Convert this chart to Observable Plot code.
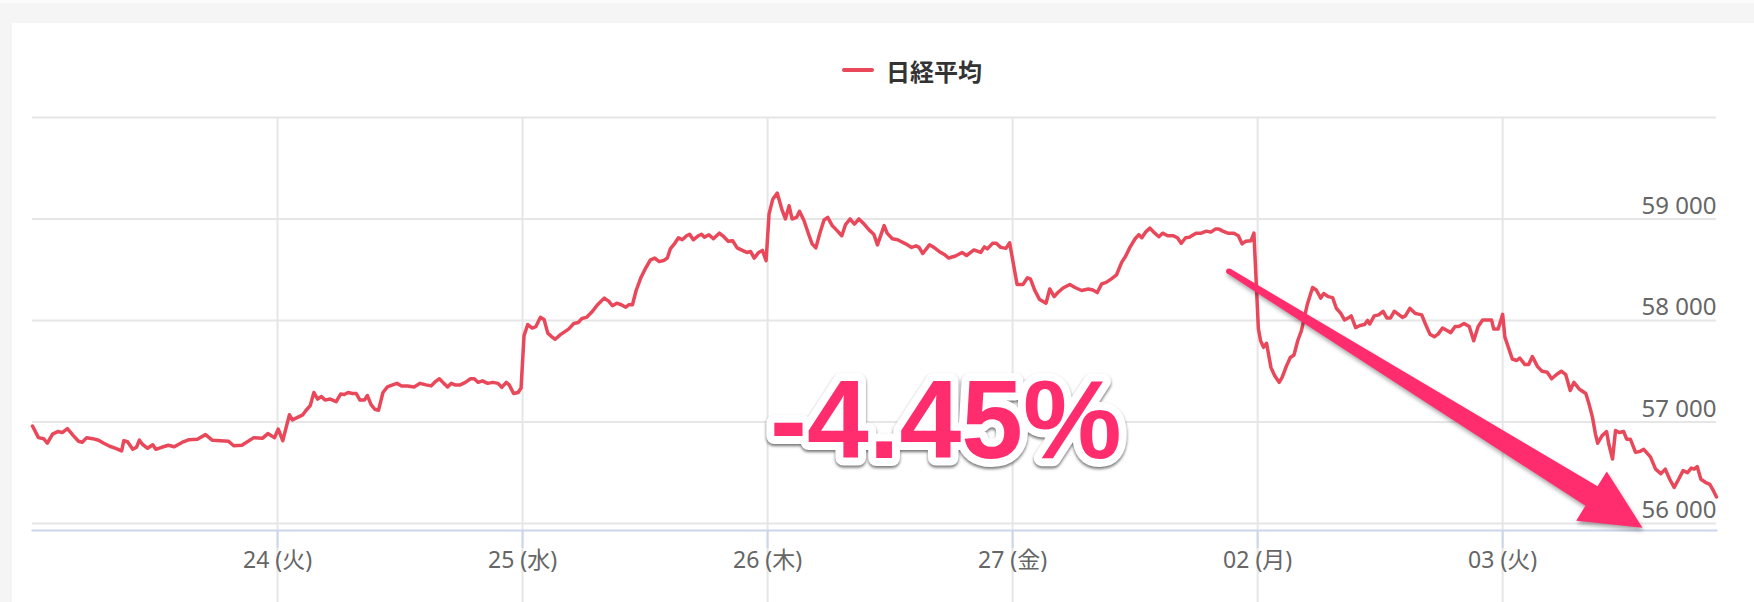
<!DOCTYPE html>
<html><head><meta charset="utf-8">
<script src="https://cdn.jsdelivr.net/npm/d3@7"></script>
<script src="https://cdn.jsdelivr.net/npm/@observablehq/plot@0.6"></script>
<style>
html,body{margin:0;padding:0;}
body{width:1754px;height:602px;background:#f5f5f5;position:relative;overflow:hidden;font-family:"Noto Sans","Noto Sans CJK JP",sans-serif;}
#topstrip{position:absolute;left:0;top:0;width:1754px;height:3px;background:#fbfbfb;}
#panel{position:absolute;left:12px;top:23px;width:1742px;height:579px;background:#fff;}
#legend{position:absolute;left:842px;top:52px;height:36px;display:flex;align-items:center;}
#legend .swatch{width:32px;height:4px;background:#e8485a;border-radius:2px;margin-right:12px;}
#legend .label{font-weight:bold;font-size:24px;font-family:"Noto Sans CJK JP",sans-serif;color:#333;}
#chart{position:absolute;left:0;top:100px;}
</style></head>
<body>
<div id="topstrip"></div>
<div id="panel"></div>
<div id="legend"><div class="swatch"></div><div class="label" id="legendLabel"></div></div>
<div id="chart"></div>
<script>
// ---- data ----
const seriesName = "日経平均";
const dayLabels = ["20 (金)", "24 (火)", "25 (水)", "26 (木)", "27 (金)", "02 (月)", "03 (火)"];
const labeledDays = [1, 2, 3, 4, 5, 6];
const sessionMinutes = 330;
const yTicks = [56000, 57000, 58000, 59000, 60000];
const yLabelTicks = [56000, 57000, 58000, 59000];
const yDomain = [55930, 60000];

// [minutes into session, price]
const feb20 = [[0,56960],[8,56845],[15,56835],[20,56790],[27,56880],[34,56905],[40,56895],[47,56935],[55,56865],[62,56810],[67,56800],[73,56845],[81,56835],[89,56820],[96,56790],[104,56760],[112,56740],[120,56715],[123,56815],[128,56805],[135,56730],[140,56750],[144,56820],[148,56780],[155,56740],[162,56775],[166,56730],[174,56750],[183,56770],[191,56755],[202,56800],[211,56825],[222,56830],[233,56875],[242,56820],[253,56815],[264,56810],[271,56765],[282,56770],[298,56845],[310,56840],[317,56885],[326,56845]];
const feb24 = [[1,56930],[7,56815],[16,57070],[20,57020],[27,57045],[34,57070],[38,57110],[44,57160],[49,57290],[54,57225],[59,57250],[64,57215],[71,57225],[79,57200],[85,57275],[90,57270],[95,57290],[101,57280],[106,57280],[111,57215],[117,57215],[121,57260],[126,57170],[131,57125],[136,57115],[142,57290],[148,57345],[155,57365],[161,57380],[167,57355],[175,57355],[184,57345],[192,57380],[200,57365],[207,57355],[213,57400],[218,57425],[224,57380],[229,57345],[234,57380],[239,57365],[246,57365],[253,57390],[260,57425],[265,57425],[270,57390],[276,57405],[283,57380],[290,57390],[297,57380],[302,57340],[308,57390],[312,57365],[318,57280],[324,57290],[328,57335]];
const feb25 = [[2,57850],[7,57960],[13,57925],[18,57940],[24,58030],[29,58010],[34,57875],[40,57835],[44,57815],[51,57860],[57,57890],[62,57915],[69,57970],[75,57980],[80,58020],[86,58030],[93,58080],[101,58155],[110,58220],[116,58190],[121,58145],[127,58170],[133,58155],[139,58130],[143,58155],[148,58155],[153,58295],[159,58415],[165,58505],[172,58595],[178,58615],[184,58580],[190,58590],[195,58615],[199,58705],[205,58760],[210,58815],[215,58795],[221,58835],[225,58850],[230,58795],[237,58835],[241,58850],[245,58820],[251,58845],[257,58805],[265,58860],[271,58825],[277,58780],[283,58785],[289,58715],[296,58690],[302,58670],[307,58680],[312,58615],[318,58670],[323,58690],[328,58590]];
const feb26 = [[2,59050],[7,59195],[13,59255],[19,59100],[24,59000],[29,59130],[33,59000],[39,59015],[43,59075],[49,58985],[56,58835],[60,58755],[65,58715],[70,58850],[76,58990],[81,59015],[87,58935],[93,58890],[100,58835],[105,58945],[111,59000],[117,58950],[123,59000],[130,58950],[137,58890],[143,58850],[148,58745],[157,58935],[161,58860],[168,58805],[175,58795],[186,58755],[194,58720],[200,58735],[204,58720],[209,58660],[218,58745],[224,58720],[231,58680],[238,58650],[244,58615],[253,58635],[262,58670],[268,58640],[278,58695],[287,58670],[292,58725],[296,58705],[303,58760],[308,58760],[314,58720],[321,58710],[326,58765]];
const feb27 = [[6,58355],[14,58355],[20,58420],[24,58410],[30,58295],[36,58210],[45,58170],[50,58310],[56,58235],[61,58275],[68,58320],[77,58355],[84,58325],[93,58295],[102,58310],[108,58300],[114,58275],[120,58360],[126,58375],[133,58410],[140,58450],[147,58575],[152,58630],[158,58720],[165,58805],[170,58845],[174,58815],[179,58870],[185,58910],[190,58870],[197,58825],[202,58860],[209,58835],[216,58835],[222,58815],[227,58760],[233,58815],[238,58820],[247,58860],[254,58860],[261,58880],[267,58870],[273,58900],[278,58900],[283,58880],[290,58860],[298,58860],[304,58835],[309,58755],[314,58780],[321,58785],[325,58860]];
const mar02 = [[1,57920],[4,57800],[8,57735],[12,57775],[18,57535],[23,57455],[29,57390],[33,57440],[39,57555],[44,57635],[49,57660],[54,57800],[59,57900],[63,58030],[67,58160],[74,58325],[79,58300],[85,58220],[89,58265],[95,58235],[101,58225],[106,58120],[112,58070],[117,58005],[123,58030],[126,58045],[132,57930],[138,57950],[144,57960],[148,58000],[151,57965],[157,58045],[163,58055],[169,58090],[174,58025],[179,58025],[184,58090],[188,58070],[195,58030],[199,58045],[205,58120],[212,58070],[221,58055],[226,57965],[232,57865],[238,57840],[243,57865],[249,57925],[255,57900],[260,57880],[266,57940],[271,57940],[278,57970],[285,57940],[291,57800],[297,57940],[303,58005],[310,58005],[315,58005],[318,57915],[324,57915]];
const mar03 = [[0,58060],[3,57835],[7,57750],[13,57620],[19,57605],[23,57630],[30,57565],[35,57565],[40,57645],[47,57545],[53,57500],[60,57490],[66,57425],[73,57470],[79,57500],[85,57465],[91,57310],[96,57390],[103,57325],[112,57280],[116,57185],[121,57045],[125,56880],[128,56790],[134,56865],[140,56905],[143,56780],[148,56635],[152,56915],[157,56895],[163,56905],[167,56830],[172,56830],[179,56700],[185,56710],[190,56730],[199,56655],[206,56535],[213,56490],[219,56535],[225,56435],[231,56355],[237,56435],[243,56520],[249,56500],[254,56545],[258,56535],[262,56560],[267,56435],[273,56405],[279,56385],[284,56320],[288,56260]];
const dayData = [feb20, feb24, feb25, feb26, feb27, mar02, mar03];

// annotation: [day index, minute, price]
const annotationText = "-4.45%";
const annotationAt = [3, 240, 56640];
const arrowStart = [4, 292, 58480];
const arrowEnd = [6, 189, 55953];

// ---- build ----
const toPos = (d, m) => d + m / sessionMinutes;
const series = dayData.flatMap((arr, k) => arr.map(([m, p]) => ({pos: toPos(k, m), price: p})));
const xMax = d3.max(series, d => d.pos);
const fmt = v => d3.format(",")(v).replace(/,/g, " ");
const lineColor = "#e8485a";
const pink = "#ff2d6e";

document.getElementById("legendLabel").textContent = seriesName;

const chart = Plot.plot({
  width: 1754, height: 502,
  marginLeft: 32, marginRight: 38, marginTop: 17, marginBottom: 72,
  style: {background: "transparent", overflow: "visible", fontFamily: '"Noto Sans","Noto Sans CJK JP",sans-serif'},
  x: {domain: [0, xMax], axis: null},
  y: {domain: yDomain, axis: null},
  marks: [
    Plot.gridY(yTicks, {stroke: "#e6e6e6", strokeWidth: 2, strokeOpacity: 1}),
    Plot.gridX(labeledDays, {stroke: "#e6e6e6", strokeWidth: 2, strokeOpacity: 1, insetBottom: -72}),
    Plot.frame({anchor: "bottom", stroke: "#ccd6eb", strokeWidth: 2}),
    Plot.axisX(labeledDays, {anchor: "bottom", label: null, tickSize: 18, tickPadding: 3, stroke: "#ccd6eb", strokeWidth: 2,
      fill: "#666", fontSize: 23, tickFormat: d => dayLabels[d]}),
    Plot.text(yLabelTicks, {y: d => d, frameAnchor: "right", text: fmt, textAnchor: "end",
      lineAnchor: "bottom", dy: -5, fill: "#666", fontSize: 24}),
    Plot.line(series, {x: "pos", y: "price", stroke: lineColor, strokeWidth: 3.5, strokeLinejoin: "round"}),
    Plot.text([{pos: toPos(annotationAt[0], annotationAt[1]), price: annotationAt[2], label: annotationText}], {
      x: "pos", y: "price", text: "label", fontSize: 111, fontWeight: "bold",
      fontFamily: '"Liberation Sans", Arial, sans-serif', fill: pink, stroke: "white", strokeWidth: 16,
      strokeLinejoin: "round", paintOrder: "stroke", textAnchor: "middle", lineAnchor: "bottom"})
  ]
});
document.getElementById("chart").appendChild(chart);

// shadows
const svg = d3.select(chart);
svg.selectAll("text").filter(function() { return this.textContent === annotationText; })
  .style("filter", "drop-shadow(0px 2px 1.5px rgba(0,0,0,0.55))");

// arrow from scales
const sx = chart.scale("x"), sy = chart.scale("y");
const S = [sx.apply(toPos(arrowStart[0], arrowStart[1])), sy.apply(arrowStart[2])];
const T = [sx.apply(toPos(arrowEnd[0], arrowEnd[1])), sy.apply(arrowEnd[2])];
const L = Math.hypot(T[0] - S[0], T[1] - S[1]);
const u = [(T[0] - S[0]) / L, (T[1] - S[1]) / L];
const n = [-u[1], u[0]];
const headLen = 60, headHalf = 29, w0 = 2.8, w1 = 11.5;
const B = [T[0] - u[0] * headLen, T[1] - u[1] * headLen];
const pt = (P, k) => [P[0] + n[0] * k, P[1] + n[1] * k];
const poly = [pt(S, w0), pt(B, w1), pt(B, headHalf), T, pt(B, -headHalf), pt(B, -w1), pt(S, -w0)];
const g = svg.append("g").attr("aria-label", "arrow")
  .style("filter", "drop-shadow(1px 3px 2px rgba(0,0,0,0.35))");
g.append("path").attr("d", "M" + poly.map(p => p.join(",")).join("L") + "Z").attr("fill", pink);
g.append("circle").attr("cx", S[0]).attr("cy", S[1]).attr("r", w0).attr("fill", pink);
</script>
</body></html>
